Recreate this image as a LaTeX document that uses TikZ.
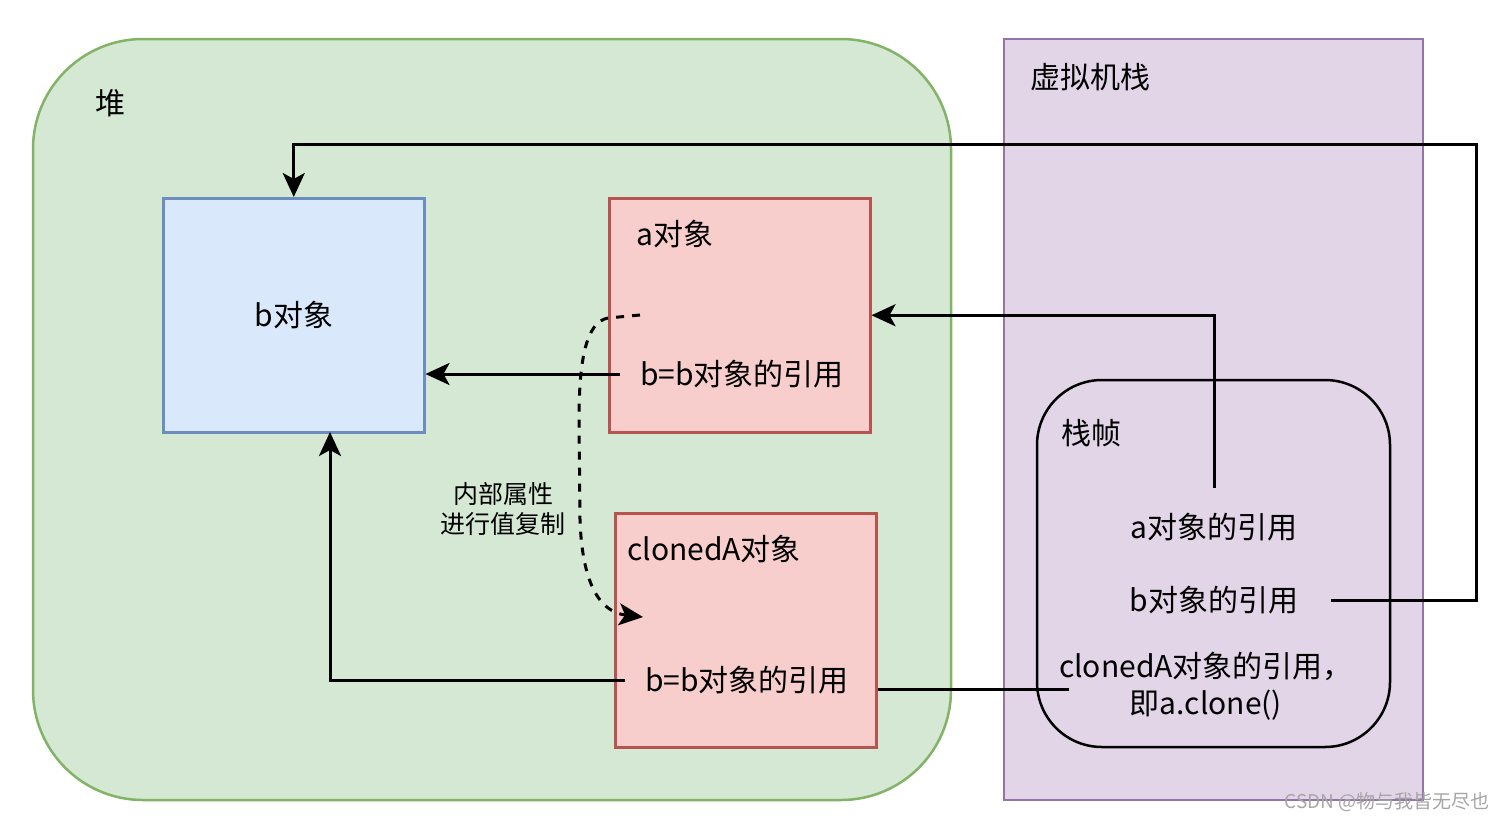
\documentclass[tikz,border=0pt]{standalone}
\usepackage{fontspec}
\setmainfont{Noto Sans CJK SC}
\usetikzlibrary{arrows.meta}
\definecolor{heapfill}{HTML}{D5E8D4}
\definecolor{heapline}{HTML}{82B366}
\definecolor{stackfill}{HTML}{E1D5E7}
\definecolor{stackline}{HTML}{9673A6}
\definecolor{bluefill}{HTML}{DAE8FC}
\definecolor{blueline}{HTML}{6C8EBF}
\definecolor{redfill}{HTML}{F8CECC}
\definecolor{redline}{HTML}{B85450}
\tikzset{
  txt/.style={inner sep=0pt, font=\fontsize{30}{36}\selectfont, text=black},
  small/.style={inner sep=0pt, font=\fontsize{25}{30}\selectfont, align=center},
  obox/.style={draw, line width=2.5pt, minimum width=261pt, minimum height=234pt, anchor=north west, inner sep=0pt},
  conn/.style={line width=3pt, draw=black},
  arr/.style={conn, -{Stealth[length=24pt,width=22pt,inset=6pt]}},
}
\begin{document}
\begin{tikzpicture}[x=1pt,y=-1pt]
\useasboundingbox (0,0) rectangle (1506,822);
\fill[white] (0,0) rectangle (1506,822);
% heap
\draw[fill=heapfill, draw=heapline, line width=2.5pt, rounded corners=110pt] (33,39) rectangle (951,800);
\node[txt, anchor=center] (heap) at (110,103) {堆};
% VM stack
\draw[fill=stackfill, draw=stackline, line width=2.5pt] (1004,39) rectangle (1423,800);
\node[txt, anchor=west] (vms) at (1030,77) {虚拟机栈};
% boxes
\node[obox, fill=bluefill, draw=blueline] (bobj) at (162,197) {};
\node[txt] (btitle) at (bobj.center) {b对象};
\node[obox, fill=redfill, draw=redline] (aobj) at (608,197) {};
\node[txt, anchor=west] (atitle) at (636,234) {a对象};
\node[txt, anchor=west] (ab) at (640,374) {b=b对象的引用};
\node[obox, fill=redfill, draw=redline] (cobj) at (614,512) {};
\node[txt, anchor=west] (ctitle) at (627,549) {clonedA对象};
\node[txt, anchor=west] (cb) at (645,680) {b=b对象的引用};
% stack frame
\draw[line width=2.5pt, rounded corners=65pt] (1037,380) rectangle (1390,747);
\node[txt, anchor=west] (frame) at (1061,433) {栈帧};
\node[txt] (aref) at (1214,527) {a对象的引用};
\node[txt] (bref) at (1214,600) {b对象的引用};
\node[txt, align=center, font=\fontsize{30}{37}\selectfont] (cref) at (1206,686) {clonedA对象的引用，\\即a.clone()};
\node[small] (copy) at (503,509) {内部属性\\进行值复制};
% connectors
\coordinate (c1) at (1476,144);
\draw[arr] ([xshift=33pt]bref.east) -| (c1) -| (bobj.north);
\draw[arr] ([yshift=25pt]aref.north) |- (aobj.east);
\draw[arr] ([xshift=-20pt]ab.west) -- (bobj.east |- ab.west);
\coordinate (c4) at (330,432);
\draw[arr] ([xshift=-20pt]cb.west) -| (c4);
\coordinate (c5) at (1069,689);
\draw[conn] (cobj.east |- c5) -- (c5);
\coordinate (d1) at (640,315);
\coordinate (d2) at (643,617);
\draw[arr, dash pattern=on 8pt off 8pt] (d1) -- (608,318) .. controls (586,322) and (579,360) .. (579,420) -- (580,520) .. controls (582,580) and (598,612) .. (d2);
% watermark
\node[inner sep=0pt, font=\fontsize{19}{22}\selectfont, text=black!35, anchor=east] (wm) at (1490,802) {CSDN @物与我皆无尽也};
\end{tikzpicture}
\end{document}
